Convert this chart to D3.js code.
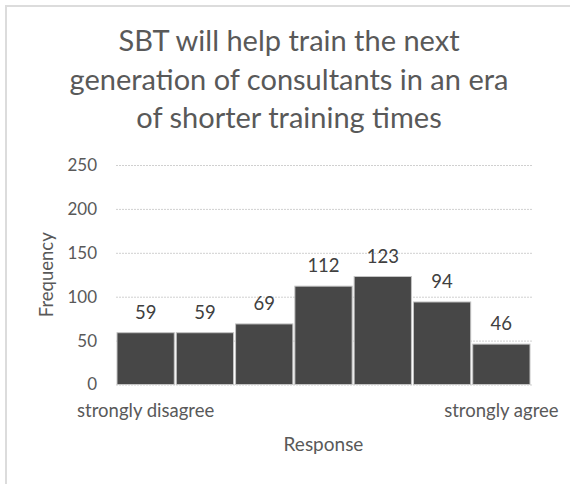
<!DOCTYPE html>
<html>
<head>
<meta charset="utf-8">
<script src="https://cdn.jsdelivr.net/npm/d3@7"></script>
<style>
  html, body { margin: 0; padding: 0; background: #fff; }
  svg { display: block; font-family: Lato, "Noto Sans", sans-serif; }
</style>
</head>
<body>
<svg id="chart" width="570" height="484"></svg>
<script>
const categories = ["1", "2", "3", "4", "5", "6", "7"];
const frequencies = [59, 59, 69, 112, 123, 94, 46];
const categoryLabels = ["strongly disagree", "", "", "", "", "", "strongly agree"];
const yTicks = [0, 50, 100, 150, 200, 250];
const titleLines = ["SBT will help train the next", "generation of consultants in an era", "of shorter training times"];

const svg = d3.select("#chart");
const margin = { left: 116, right: 39, top: 165, bottom: 99.5 };
const W = 570, H = 484;

// frame
svg.append("path")
  .attr("d", `M6,${H} V6 H${W}`)
  .attr("fill", "none").attr("stroke", "#dcdcdc").attr("stroke-width", 2);

const x = d3.scaleBand().domain(categories).range([margin.left, W - margin.right]).padding(0);
const y = d3.scaleLinear().domain([0, 250]).range([H - margin.bottom, margin.top]);

// gridlines
const grid = svg.append("g")
  .attr("transform", `translate(${margin.left},0)`)
  .call(d3.axisLeft(y).tickValues(yTicks).tickSize(-(W - margin.right - margin.left + 2)).tickFormat(""));
grid.select(".domain").remove();
grid.selectAll("line").attr("stroke", "#d0d0d0").attr("stroke-dasharray", "2,1");

// y axis labels
const yAxis = svg.append("g")
  .attr("transform", `translate(${margin.left},0)`)
  .call(d3.axisLeft(y).tickValues(yTicks).tickSize(0).tickPadding(19));
yAxis.select(".domain").remove();
yAxis.selectAll("text").attr("fill", "#595959").attr("font-size", 17).attr("font-family", "Lato");

// bars
svg.append("g").selectAll("rect")
  .data(frequencies)
  .join("rect")
  .attr("x", (d, i) => x(categories[i]) + 1)
  .attr("width", x.bandwidth() - 2)
  .attr("y", d => y(d))
  .attr("height", d => y(0) - y(d))
  .attr("fill", "#474747")
  .attr("stroke", "#c4c4c4")
  .attr("stroke-width", 1);

// value labels
svg.append("g").selectAll("text")
  .data(frequencies)
  .join("text")
  .attr("x", (d, i) => x(categories[i]) + x.bandwidth() / 2)
  .attr("y", d => y(d) - 14)
  .attr("text-anchor", "middle")
  .attr("font-size", 18.5)
  .attr("fill", "#404040")
  .text(d => d);

// x axis labels
const xAxis = svg.append("g")
  .attr("transform", `translate(0,${y(0)})`)
  .call(d3.axisBottom(x).tickSize(0).tickPadding(19).tickFormat((d, i) => categoryLabels[i]));
xAxis.select(".domain").remove();
xAxis.selectAll("text").attr("fill", "#595959").attr("font-size", 18.5).attr("font-family", "Lato");

// axis titles
svg.append("text")
  .attr("x", (margin.left + W - margin.right) / 2)
  .attr("y", 451)
  .attr("text-anchor", "middle")
  .attr("font-size", 19)
  .attr("fill", "#595959")
  .text("Response");

svg.append("text")
  .attr("transform", `translate(53,${(y(0) + y(250)) / 2}) rotate(-90)`)
  .attr("text-anchor", "middle")
  .attr("font-size", 18.5)
  .attr("fill", "#595959")
  .text("Frequency");

// title
svg.append("g").selectAll("text")
  .data(titleLines)
  .join("text")
  .attr("x", 289)
  .attr("y", (d, i) => 51 + i * 38.5)
  .attr("text-anchor", "middle")
  .attr("font-size", 29)
  .attr("fill", "#595959")
  .text(d => d);
</script>
</body>
</html>
